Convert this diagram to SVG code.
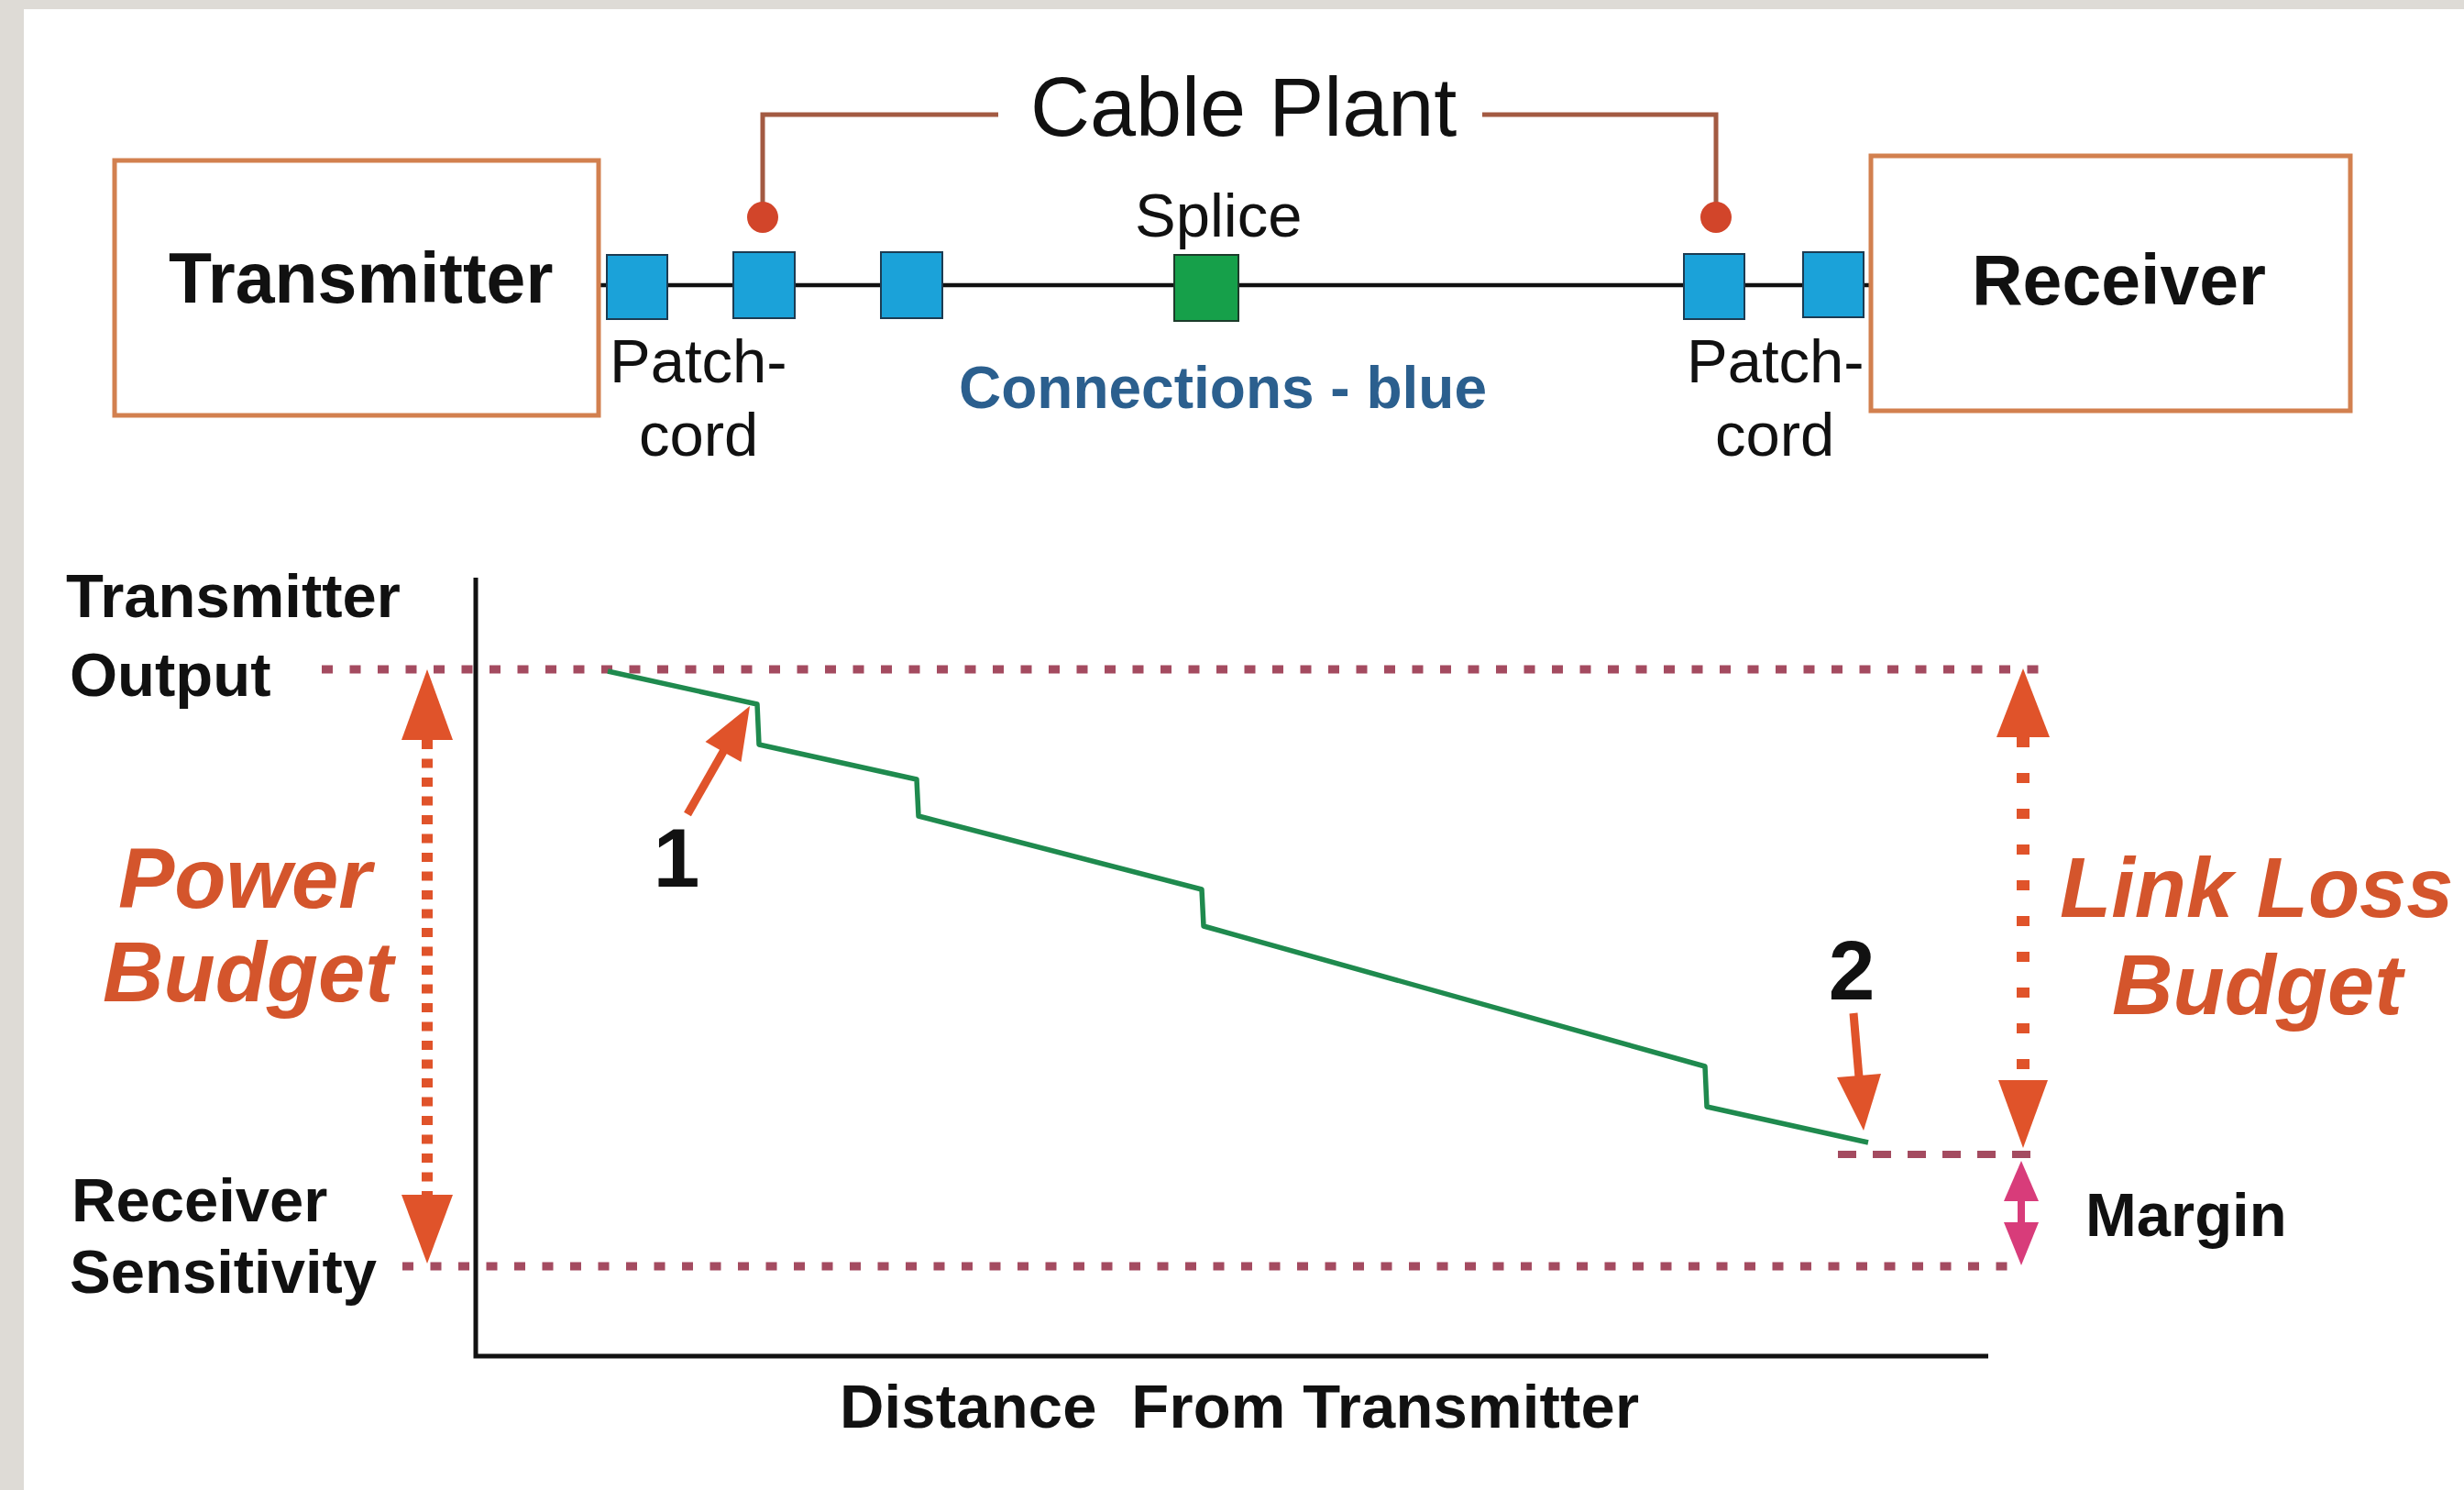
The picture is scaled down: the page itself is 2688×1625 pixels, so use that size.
<svg xmlns="http://www.w3.org/2000/svg" width="2688" height="1625" viewBox="0 0 2688 1625">
<style>
.t{font-family:"Liberation Sans",Arial,sans-serif;fill:#111}
.b{font-weight:bold}
.o{font-family:"Liberation Sans",Arial,sans-serif;font-weight:bold;font-style:italic;fill:#d4552c;font-size:92px}
.box{fill:#fff;stroke:#d2804f;stroke-width:5}
.conn{fill:#1ba2d9;stroke:#1c3b52;stroke-width:2}
.splice{fill:#16a04a;stroke:#1c3b2a;stroke-width:2}
.dotline{stroke:#a44b60;stroke-width:9;stroke-dasharray:12 18.5;fill:none}
.orange{fill:#e0532a}
.mag{fill:#d83c7a}
</style>
<rect x="0" y="0" width="2688" height="1625" fill="#fff"/>
<rect x="0" y="0" width="2688" height="10" fill="#dedbd6"/>
<rect x="0" y="0" width="26" height="1625" fill="#dedbd6"/>

<g id="connectors">
  <line x1="653" y1="311" x2="2041" y2="311" stroke="#111" stroke-width="4.5"/>
  <path d="M832 237 V125 H1089 M1617 125 H1872 V237" fill="none" stroke="#a35a42" stroke-width="5"/>
  <circle cx="832" cy="237" r="17" fill="#d2452a"/>
  <circle cx="1872" cy="237" r="17" fill="#d2452a"/>
</g>

<g id="transmitter">
  <rect class="box" x="125" y="175" width="528" height="278"/>
  <text class="t b" x="184" y="330" font-size="77">Transmitter</text>
</g>
<g id="receiver">
  <rect class="box" x="2041" y="170" width="523" height="278"/>
  <text class="t b" x="2151" y="332" font-size="77">Receiver</text>
</g>

<g id="cable-plant">
  <text class="t" x="1124" y="148" font-size="90">Cable Plant</text>
</g>

<g id="connections">
  <rect class="conn" x="662" y="278" width="66" height="70"/>
  <rect class="conn" x="800" y="275" width="67" height="72"/>
  <rect class="conn" x="961" y="275" width="67" height="72"/>
  <rect class="conn" x="1837" y="277" width="66" height="71"/>
  <rect class="conn" x="1967" y="275" width="66" height="71"/>
  <rect class="splice" x="1281" y="278" width="70" height="72"/>
  <text class="t" x="1238" y="258" font-size="67">Splice</text>
  <text class="t b" x="1046" y="445" font-size="64" style="fill:#2b5f8e">Connections - blue</text>
  <text class="t" x="665" y="417" font-size="67">Patch-</text>
  <text class="t" x="697" y="497" font-size="67">cord</text>
  <text class="t" x="1840" y="417" font-size="67">Patch-</text>
  <text class="t" x="1871" y="497" font-size="67">cord</text>
</g>

<g id="chart">
  <path d="M519 630 V1479 H2169" fill="none" stroke="#111" stroke-width="5"/>
  <line class="dotline" x1="351" y1="730" x2="2236" y2="730"/>
  <line class="dotline" x1="439" y1="1381" x2="2198" y2="1381"/>
  <line x1="2005" y1="1259" x2="2230" y2="1259" stroke="#a44b60" stroke-width="8" stroke-dasharray="20 18"/>
  <polyline points="663,732 826,768 828,812 1000,850 1002,890 1311,970 1313,1010 1860,1163 1862,1207 2038,1246" fill="none" stroke="#1f8a4e" stroke-width="5.5" stroke-linejoin="round"/>
</g>

<g id="power-budget">
  <line x1="466" y1="807" x2="466" y2="1303" stroke="#e0532a" stroke-width="12" stroke-dasharray="10 10.5"/>
  <polygon class="orange" points="466,730 438,807 494,807"/>
  <polygon class="orange" points="466,1378 438,1303 494,1303"/>
  <text class="o" x="129" y="990">Power</text>
  <text class="o" x="112" y="1092">Budget</text>
</g>

<g id="link-loss-budget">
  <line x1="2207" y1="804" x2="2207" y2="1178" stroke="#e0532a" stroke-width="14" stroke-dasharray="11 28"/>
  <polygon class="orange" points="2207,729 2178,804 2236,804"/>
  <polygon class="orange" points="2207,1252 2180,1178 2234,1178"/>
  <text class="o" x="2247" y="1000">Link Loss</text>
  <text class="o" x="2304" y="1106">Budget</text>
</g>

<g id="margin">
  <line x1="2205" y1="1308" x2="2205" y2="1335" stroke="#d83c7a" stroke-width="8"/>
  <polygon class="mag" points="2205,1266 2186,1310 2224,1310"/>
  <polygon class="mag" points="2205,1380 2186,1333 2224,1333"/>
  <text class="t b" x="2275" y="1348" font-size="67">Margin</text>
</g>

<g id="marker-1">
  <line x1="750" y1="888" x2="790" y2="818" stroke="#e0532a" stroke-width="9"/>
  <polygon class="orange" points="818,770 808.5,831 769.5,809"/>
  <text class="t b" x="738" y="967" font-size="91" text-anchor="middle">1</text>
</g>
<g id="marker-2">
  <line x1="2022" y1="1105" x2="2028" y2="1175" stroke="#e0532a" stroke-width="9"/>
  <polygon class="orange" points="2033,1233 2052,1171 2004,1175"/>
  <text class="t b" x="2020" y="1090" font-size="91" text-anchor="middle">2</text>
</g>

<g id="axis-labels">
  <text class="t b" x="72" y="673" font-size="67">Transmitter</text>
  <text class="t b" x="76" y="759" font-size="67">Output</text>
  <text class="t b" x="78" y="1332" font-size="67">Receiver</text>
  <text class="t b" x="76" y="1410" font-size="67">Sensitivity</text>
  <text class="t b" x="916" y="1557" font-size="67" textLength="872" style="white-space:pre">Distance  From Transmitter</text>
</g>
</svg>
